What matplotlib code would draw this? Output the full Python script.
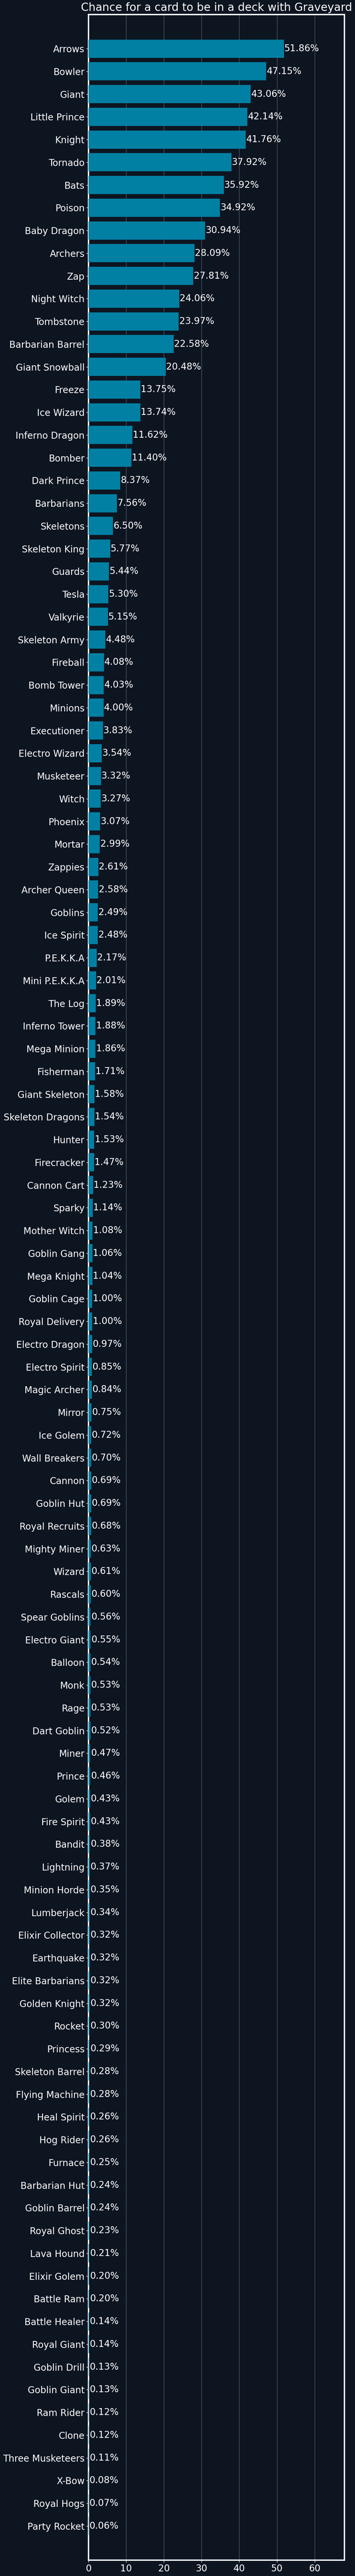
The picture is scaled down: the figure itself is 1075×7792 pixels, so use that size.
import matplotlib
matplotlib.use("Agg")
import matplotlib.pyplot as plt
import numpy as np

cards = ["Arrows", "Bowler", "Giant", "Little Prince", "Knight", "Tornado", "Bats", "Poison",
         "Baby Dragon", "Archers", "Zap", "Night Witch", "Tombstone", "Barbarian Barrel",
         "Giant Snowball", "Freeze", "Ice Wizard", "Inferno Dragon", "Bomber", "Dark Prince",
         "Barbarians", "Skeletons", "Skeleton King", "Guards", "Tesla", "Valkyrie",
         "Skeleton Army", "Fireball", "Bomb Tower", "Minions", "Executioner", "Electro Wizard",
         "Musketeer", "Witch", "Phoenix", "Mortar", "Zappies", "Archer Queen", "Goblins",
         "Ice Spirit", "P.E.K.K.A", "Mini P.E.K.K.A", "The Log", "Inferno Tower", "Mega Minion",
         "Fisherman", "Giant Skeleton", "Skeleton Dragons", "Hunter", "Firecracker",
         "Cannon Cart", "Sparky", "Mother Witch", "Goblin Gang", "Mega Knight", "Goblin Cage",
         "Royal Delivery", "Electro Dragon", "Electro Spirit", "Magic Archer", "Mirror",
         "Ice Golem", "Wall Breakers", "Cannon", "Goblin Hut", "Royal Recruits", "Mighty Miner",
         "Wizard", "Rascals", "Spear Goblins", "Electro Giant", "Balloon", "Monk", "Rage",
         "Dart Goblin", "Miner", "Prince", "Golem", "Fire Spirit", "Bandit", "Lightning",
         "Minion Horde", "Lumberjack", "Elixir Collector", "Earthquake", "Elite Barbarians",
         "Golden Knight", "Rocket", "Princess", "Skeleton Barrel", "Flying Machine",
         "Heal Spirit", "Hog Rider", "Furnace", "Barbarian Hut", "Goblin Barrel", "Royal Ghost",
         "Lava Hound", "Elixir Golem", "Battle Ram", "Battle Healer", "Royal Giant",
         "Goblin Drill", "Goblin Giant", "Ram Rider", "Clone", "Three Musketeers", "X-Bow",
         "Royal Hogs", "Party Rocket"]

percentages = [51.86, 47.15, 43.06, 42.14, 41.76, 37.92, 35.92, 34.92,
               30.94, 28.09, 27.81, 24.06, 23.97, 22.58,
               20.48, 13.75, 13.74, 11.62, 11.40, 8.37,
               7.56, 6.50, 5.77, 5.44, 5.30, 5.15,
               4.48, 4.08, 4.03, 4.00, 3.83, 3.54,
               3.32, 3.27, 3.07, 2.99, 2.61, 2.58, 2.49,
               2.48, 2.17, 2.01, 1.89, 1.88, 1.86,
               1.71, 1.58, 1.54, 1.53, 1.47,
               1.23, 1.14, 1.08, 1.06, 1.04, 1.00,
               1.00, 0.97, 0.85, 0.84, 0.75,
               0.72, 0.70, 0.69, 0.69, 0.68, 0.63,
               0.61, 0.60, 0.56, 0.55, 0.54, 0.53, 0.53,
               0.52, 0.47, 0.46, 0.43, 0.43, 0.38, 0.37,
               0.35, 0.34, 0.32, 0.32, 0.32,
               0.32, 0.30, 0.29, 0.28, 0.28,
               0.26, 0.26, 0.25, 0.24, 0.24, 0.23,
               0.21, 0.20, 0.20, 0.14, 0.14,
               0.13, 0.13, 0.12, 0.12, 0.11, 0.08,
               0.07, 0.06]

title = "Chance for a card to be in a deck with Graveyard"
x_ticks = [0, 10, 20, 30, 40, 50, 60]

BG = "#0d1521"
BAR = "#0180a3"
FG = "white"

plt.rcParams['font.family'] = ['DejaVu Sans']
fig = plt.figure(figsize=(10.75, 77.92), dpi=100, facecolor=BG)
ax = fig.add_axes([0.2493, 0.00616, 0.7207, 0.98819])
ax.set_facecolor(BG)

y = np.arange(len(cards))
bars = ax.barh(y, percentages, height=0.8, color=BAR, zorder=3)
ax.bar_label(bars, labels=[f"{v:.2f}%" for v in percentages], padding=1,
             color=FG, fontsize=20, zorder=4)

ax.set_yticks(y)
ax.set_yticklabels(cards)
ax.set_ylim(len(cards) + 0.5, -1.5)
ax.set_xlim(0, 67.9)
ax.set_xticks(x_ticks)

ax.tick_params(axis='both', colors=FG, labelsize=20, length=5, width=1)
ax.grid(axis='x', color='#5b6370', linewidth=1, zorder=0)
ax.grid(axis='y', visible=False)
for s in ax.spines.values():
    s.set_color(FG)
    s.set_linewidth(3)

ax.set_title(title, color=FG, fontsize=24, pad=8)

fig.savefig("out.png", dpi=100, facecolor=BG)
